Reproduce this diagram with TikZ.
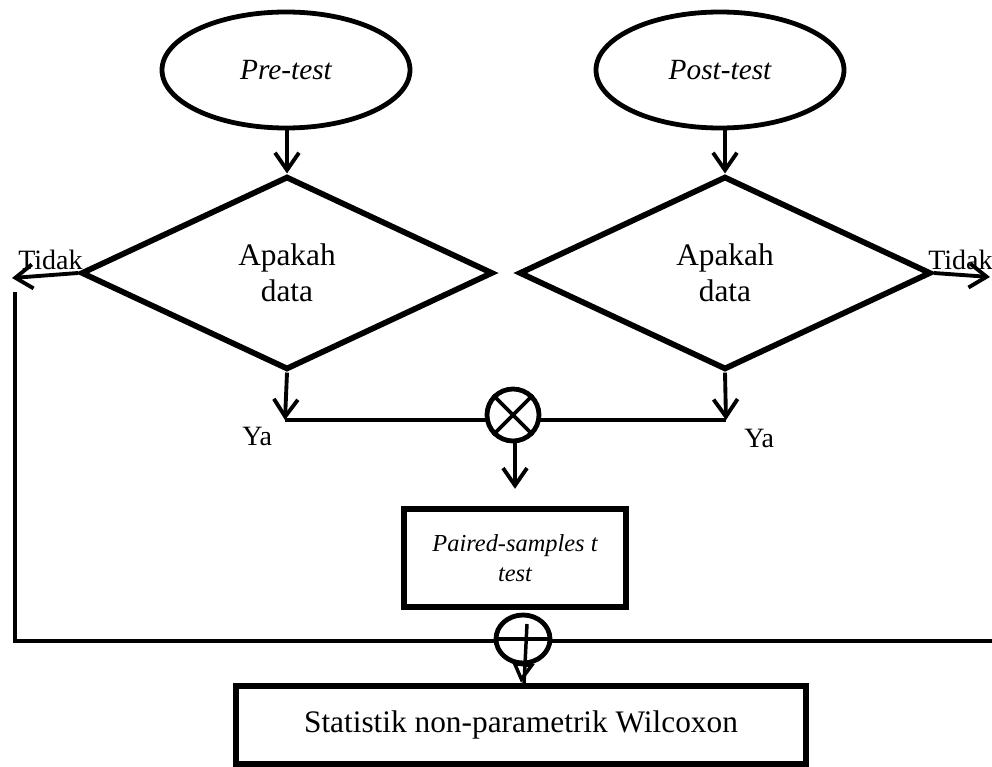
\documentclass[tikz,border=0pt]{standalone}
\usepackage{fontspec}
\setmainfont{Liberation Serif}
\usetikzlibrary{shapes.geometric,arrows.meta}

\begin{document}
\begin{tikzpicture}[x=0.75pt,y=-0.75pt,
  link/.style={line width=2.9pt},
  arr/.style={link,-{Straight Barb[length=13pt,width=18pt]}},
  terminal/.style={ellipse,draw,line width=3.6pt,minimum width=186pt,minimum height=87pt,
    inner sep=0pt,font=\fontsize{22}{26}\selectfont\itshape},
  decision/.style={diamond,draw,line width=4.3pt,minimum width=309pt,minimum height=145pt,
    inner sep=0pt,align=center,font=\fontsize{23.5}{27}\selectfont},
  process/.style={rectangle,draw,line width=4.3pt,inner sep=0pt,align=center},
  junction/.style={draw,fill=white,line width=3.6pt,inner sep=0pt},
  lbl/.style={inner sep=0pt,font=\fontsize{21}{24}\selectfont}]

\clip (0,0) rectangle (992,767);

% start terminals
\node[terminal] (pre)  at (286,70) {Pre-test};
\node[terminal] (post) at (720,70) {Post-test};

% decisions
\node[decision] (dl) at (287,273) {Apakah\\data};
\node[decision] (dr) at (725,273) {Apakah\\data};

% processes
\node[process,minimum width=167pt,minimum height=73.5pt,
  font=\fontsize{18.3}{22.5}\selectfont\itshape] (pt) at (515,558) {Paired-samples t\\test};
\node[process,minimum width=427.5pt,minimum height=59pt,
  font=\fontsize{23.5}{27}\selectfont] (pw) at (521,725) {Statistik non-parametrik Wilcoxon};

% helper points
\coordinate (jl) at (285,420);
\coordinate (jr) at (726,420);
\coordinate (tl) at (12,278);
\coordinate (tr) at (990,277);
\coordinate (lv) at (15,292);
\coordinate (lb) at (15,641);
\coordinate (rb) at (992,641);

% top arrows
\draw[arr] (pre.south -| dl.north) -- (dl.north);
\draw[arr] (dr.north |- post.south) -- (dr.north);

% "Ya" branches joining
\draw[link] (jl) -- (jr);
\draw[arr] (dl.south) -- (jl);
\draw[arr] (dr.south) -- (jr);
\node[junction,circle,minimum size=39pt] (mx) at (513,415) {};
\draw[line width=2.8pt] (mx.north west) -- (mx.south east) (mx.north east) -- (mx.south west);
\draw[arr,shorten >=13pt] (pt.north |- mx.south) -- (pt.north);

% "Tidak" branches
\draw[arr] (dl.west) -- (tl);
\draw[arr] (dr.east) -- (tr);
\draw[link] (lv) -- (lb) -- (rb);

% second junction
\node[junction,ellipse,minimum width=40.5pt,minimum height=36pt] (mp) at (523,639) {};
\draw[line width=2.6pt] (mp.west) -- (mp.east);
\draw[line width=2.6pt] (527,624) -- (524,684);
\draw[line width=2.6pt,-{Triangle[open,length=15pt,width=16.5pt]}] (mp.south) -- (pw.north);

% labels
\node[lbl,anchor=base west] (tidakl) at (18,269) {Tidak};
\node[lbl,anchor=base west] (tidakr) at (928,269) {Tidak};
\node[lbl,anchor=base west] (yal) at (242,445) {Ya};
\node[lbl,anchor=base west] (yar) at (744,447) {Ya};
\end{tikzpicture}
\end{document}
